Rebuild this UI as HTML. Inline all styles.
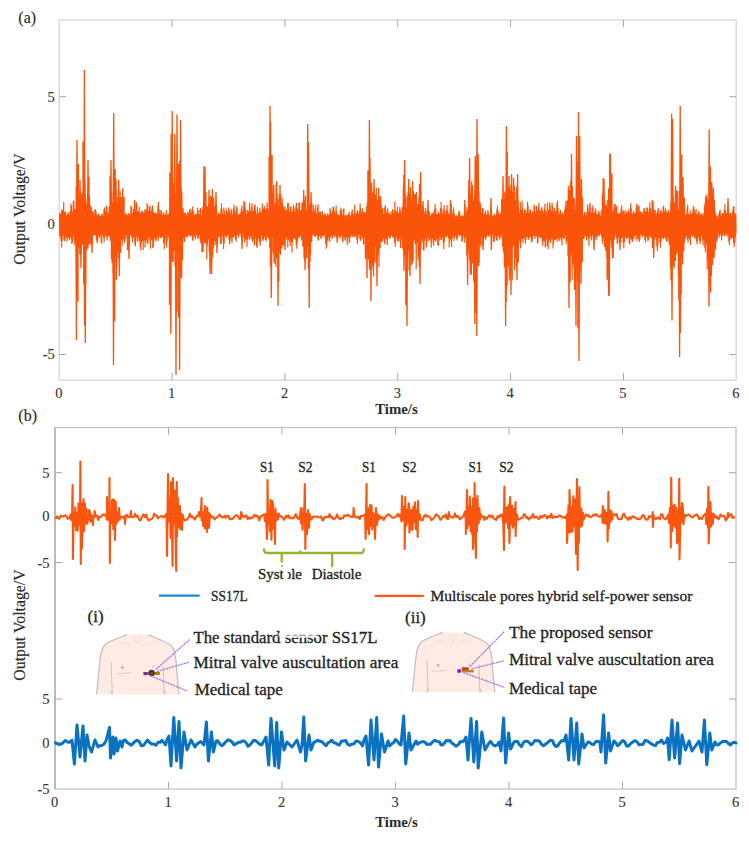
<!DOCTYPE html>
<html><head><meta charset="utf-8"><style>
html,body{margin:0;padding:0;background:#fff;}
body{width:749px;height:843px;overflow:hidden;position:relative;}
svg{position:absolute;left:0;top:0;}
text{font-family:"Liberation Serif",serif;fill:#222;stroke:#222;stroke-width:0.3px;}
.tk text,text.tk{fill:#363636;stroke:#363636;stroke-width:0.12px;}
text.tt{fill:#2a2a2a;stroke:none;}
text.yl{fill:#2a2a2a;stroke:#2a2a2a;stroke-width:0.15px;}
</style></head><body>
<svg width="749" height="843" viewBox="0 0 749 843">
<rect width="749" height="843" fill="#fff"/>
<!-- panel a -->
<text x="18.3" y="22.8" font-size="16" class="yl">(a)</text>
<rect x="59.2" y="20" width="677" height="360.2" fill="none" stroke="#d6d6d6" stroke-width="1.3"/>
<g stroke="#a8a8a8" stroke-width="1" fill="none"><path d="M172.1 20V27M172.1 380V373"/><path d="M284.9 20V27M284.9 380V373"/><path d="M397.7 20V27M397.7 380V373"/><path d="M510.6 20V27M510.6 380V373"/><path d="M623.5 20V27M623.5 380V373"/><path d="M59.2 96.7H66M736.2 96.7H729.5"/><path d="M59.2 225.5H66M736.2 225.5H729.5"/><path d="M59.2 354.5H66M736.2 354.5H729.5"/></g>
<path d="M59.5 213L59.8 236.7L60.1 214.1L60.4 232.8L60.7 216L61 240.8L61.3 211.2L61.6 247.4L61.9 209.1L62.2 241.3L62.5 213.9L62.8 234.4L63.1 210.5L63.4 235.7L63.7 201.7L64 239.5L64.3 211.7L64.6 241.1L64.9 215.7L65.2 238.5L65.5 211.7L65.8 234.2L66.1 215.2L66.4 237L66.7 215.7L67 241.8L67.3 214.3L67.6 239L67.9 212.6L68.2 235L68.5 212.6L68.8 236.9L69.1 214.9L69.4 240.3L69.7 216.3L70 237.2L70.3 210.5L70.6 234.3L70.9 203.6L71.2 239.5L71.5 205.7L71.8 244.1L72.1 213L72.4 242.8L72.7 211.5L73 237.3L73.3 201.2L73.6 235L73.9 200.5L74.2 240.9L74.5 209.1L74.8 245.2L75.1 216L75.4 243L75.7 209.5L76 238.5L76.3 209.3L76.6 239.5L76.9 203L77.2 236L77.5 208.2L77.8 246.5L78.1 205.3L78.4 247.6L78.7 200.6L79 248.4L79.3 200.7L79.6 238.5L79.9 203.4L80.2 240.6L80.5 191L80.8 248.7L81.1 201.2L81.4 241.2L81.7 194.6L82 234.2L82.3 195.9L82.6 245L82.9 191.3L83.2 244.9L83.5 210.7L83.8 236.8L84.1 207.8L84.4 240L84.7 214.9L85 254.7L85.3 212.5L85.6 250.7L85.9 198.5L86.2 245.6L86.5 213.9L86.8 250.4L87.1 204.3L87.4 246.8L87.7 192.9L88 248.4L88.3 206.3L88.6 243.9L88.9 214.7L89.2 243.4L89.5 208.7L89.8 245.4L90.1 205L90.4 237.6L90.7 207.3L91 243.7L91.3 207.1L91.6 237.6L91.9 215.6L92.2 232.5L92.5 211.3L92.8 234.8L93.1 211.5L93.4 235.2L93.7 218.1L94 235.6L94.3 214.7L94.6 235.2L94.9 209.4L95.2 233.5L95.5 209.3L95.8 235.5L96.1 211.6L96.4 240.1L96.7 215.3L97 243.2L97.3 217.4L97.6 240.9L97.9 214.5L98.2 235.9L98.5 213.8L98.8 234.4L99.1 213.7L99.4 237.9L99.7 216.1L100 235.6L100.3 217.9L100.6 235L100.9 216.1L101.2 242.5L101.5 214L101.8 243.7L102.1 213.9L102.4 235.3L102.7 215.5L103 234.5L103.3 216.6L103.6 237.7L103.9 209.5L104.2 242.1L104.5 207.5L104.8 237.5L105.1 215.9L105.4 234.7L105.7 211.2L106 234.7L106.3 205.5L106.6 237.4L106.9 207L107.2 240.4L107.5 212.7L107.8 236.6L108.1 216.3L108.4 233.2L108.7 212.2L109 235.7L109.3 206.6L109.6 236.5L109.9 209L110.2 239.6L110.5 213L110.8 241.3L111.1 207.7L111.4 259L111.7 193L112 262.8L112.3 202.8L112.6 244.2L112.9 209.3L113.2 273.3L113.5 187.5L113.8 243.7L114.1 208.8L114.4 242.8L114.7 204.4L115 247.5L115.3 212.2L115.6 256.9L115.9 204.8L116.2 241.8L116.5 210.1L116.8 267.3L117.1 204.3L117.4 241.3L117.7 197.2L118 247.3L118.3 193L118.6 258.2L118.9 216.4L119.2 246.9L119.5 213.3L119.8 246.9L120.1 190.8L120.4 238.6L120.7 202.6L121 240L121.3 197.3L121.6 239L121.9 206.9L122.2 246L122.5 210.8L122.8 240.9L123.1 213.8L123.4 235.1L123.7 214.7L124 238.9L124.3 216.2L124.6 243L124.9 217.6L125.2 240.5L125.5 213.4L125.8 235.8L126.1 213.5L126.4 234.5L126.7 216.3L127 238.4L127.3 215.3L127.6 237.5L127.9 214.5L128.2 232.7L128.5 212.9L128.8 235.7L129.1 215.2L129.4 236.5L129.7 216.1L130 236.1L130.3 213.9L130.6 234.9L130.9 205.7L131.2 234.5L131.5 206.4L131.8 237.4L132.1 213.2L132.4 242.5L132.7 214.8L133 238.4L133.3 208.9L133.6 235.6L133.9 209L134.2 236.7L134.5 213.6L134.8 244.5L135.1 214.3L135.4 246.3L135.7 209.6L136 237.1L136.3 201.9L136.6 235.9L136.9 204.8L137.2 241.5L137.5 211.8L137.8 241.3L138.1 214.9L138.4 237.7L138.7 211.2L139 235.8L139.3 206.9L139.6 241.2L139.9 212.5L140.2 247.7L140.5 215.9L140.8 250.6L141.1 212.9L141.4 243.4L141.7 210.4L142 236.3L142.3 211.2L142.6 241.3L142.9 211.4L143.2 250L143.5 215.1L143.8 240.2L144.1 213.2L144.4 237.7L144.7 209.2L145 247.4L145.3 211.2L145.6 242.7L145.9 216.1L146.2 235.2L146.5 209.2L146.8 240.4L147.1 202.9L147.4 244L147.7 204.9L148 243.2L148.3 210.9L148.6 237.2L148.9 213.4L149.2 234.9L149.5 207L149.8 240.6L150.1 205.6L150.4 248.7L150.7 211.6L151 240.7L151.3 214.1L151.6 235.3L151.9 208.4L152.2 240L152.5 205.6L152.8 248L153.1 210L153.4 247.5L153.7 212.9L154 240.2L154.3 215.4L154.6 234.9L154.9 212.9L155.2 238.1L155.5 212.3L155.8 241.6L156.1 214L156.4 239.8L156.7 216L157 235.6L157.3 212.9L157.6 236.5L157.9 205L158.2 241.2L158.5 201.9L158.8 238.4L159.1 209.1L159.4 234.5L159.7 214.3L160 236.2L160.3 213.4L160.6 238L160.9 209.7L161.2 238L161.5 210.8L161.8 236.6L162.1 214.9L162.4 234.7L162.7 216.2L163 237.5L163.3 212.7L163.6 243.1L163.9 212.2L164.2 249.2L164.5 214.7L164.8 244.5L165.1 216.7L165.4 237.4L165.7 214.2L166 237.5L166.3 210.1L166.6 247.6L166.9 215.1L167.2 241.4L167.5 215.8L167.8 234.5L168.1 214L168.4 235.9L168.7 213.7L169 239L169.3 215.2L169.6 236.1L169.9 205.4L170.2 239.3L170.5 201.4L170.8 250.3L171.1 199.4L171.4 257.7L171.7 190.3L172 261.8L172.3 192.1L172.6 249.1L172.9 196.2L173.2 262.2L173.5 195.2L173.8 251.1L174.1 189.6L174.4 250.1L174.7 200L175 266.3L175.3 194L175.6 239.8L175.9 210.3L176.2 257.7L176.5 177.4L176.8 271.1L177.1 175.1L177.4 251.6L177.7 199.1L178 254.3L178.3 177.9L178.6 254.6L178.9 195.1L179.2 260.7L179.5 206.1L179.8 248.3L180.1 193.3L180.4 238.9L180.7 202.8L181 249.9L181.3 188.6L181.6 246.5L181.9 192.7L182.2 248.7L182.5 211.1L182.8 243.5L183.1 208.2L183.4 235.5L183.7 212.7L184 238.4L184.3 215.5L184.6 241.9L184.9 213.1L185.2 237.3L185.5 212.6L185.8 234.3L186.1 215.4L186.4 236.4L186.7 215.2L187 237.3L187.3 213.2L187.6 237.4L187.9 211.2L188.2 235.1L188.5 213.2L188.8 234L189.1 217L189.4 235.3L189.7 208.9L190 236.7L190.3 209.5L190.6 235.9L190.9 217.1L191.2 235.6L191.5 212.4L191.8 233.8L192.1 209L192.4 240L192.7 206.6L193 240.9L193.3 211L193.6 235L193.9 215.1L194.2 235.4L194.5 215.6L194.8 237.4L195.1 213.5L195.4 239.4L195.7 214.6L196 235.1L196.3 217.2L196.6 233L196.9 213.2L197.2 236.7L197.5 207.7L197.8 239L198.1 209.8L198.4 238.6L198.7 214.2L199 234.8L199.3 216.1L199.6 235.1L199.9 209.9L200.2 240.8L200.5 208L200.8 243.4L201.1 216L201.4 236.8L201.7 215L202 232.7L202.3 209.4L202.6 242.8L202.9 206.4L203.2 239.9L203.5 204.5L203.8 239.3L204.1 204.3L204.4 243.6L204.7 209.4L205 239.7L205.3 203.5L205.6 242.7L205.9 205.4L206.2 243.2L206.5 209.5L206.8 259.6L207.1 206.1L207.4 245.3L207.7 209.3L208 235.8L208.3 206.8L208.6 239.4L208.9 209.4L209.2 251.4L209.5 213.8L209.8 235.2L210.1 197L210.4 243.9L210.7 196.1L211 242.8L211.3 204.9L211.6 240.3L211.9 206.3L212.2 243.7L212.5 200.6L212.8 257.6L213.1 202.2L213.4 248.3L213.7 197.6L214 245.5L214.3 211.3L214.6 241.5L214.9 207.1L215.2 240.2L215.5 212.1L215.8 245L216.1 209L216.4 243.8L216.7 210.3L217 236.1L217.3 214.6L217.6 236.4L217.9 216.9L218.2 237.5L218.5 213L218.8 236.7L219.1 212.8L219.4 233.7L219.7 216.1L220 237.6L220.3 214.2L220.6 244L220.9 208.8L221.2 244.2L221.5 203.3L221.8 236L222.1 209.2L222.4 236L222.7 215.8L223 241L223.3 214L223.6 248.9L223.9 207.4L224.2 243.4L224.5 210.9L224.8 236.2L225.1 215.5L225.4 233.2L225.7 214.3L226 235.6L226.3 208.6L226.6 237.5L226.9 212.4L227.2 236.5L227.5 215.7L227.8 234.9L228.1 211.2L228.4 233L228.7 207.4L229 240.1L229.3 209.9L229.6 244.3L229.9 213.5L230.2 241.1L230.5 216.7L230.8 233.4L231.1 208.7L231.4 238.1L231.7 210.4L232 243.1L232.3 216.6L232.6 237.6L232.9 214.6L233.2 234.6L233.5 208.2L233.8 237.6L234.1 204.6L234.4 236L234.7 209.9L235 234.1L235.3 216.1L235.6 240L235.9 213.3L236.2 241.6L236.5 206.4L236.8 234.7L237.1 207.6L237.4 234.4L237.7 214.5L238 235.7L238.3 217.1L238.6 237.6L238.9 213.8L239.2 235.3L239.5 214.5L239.8 232.9L240.1 217.2L240.4 233.2L240.7 212.6L241 236.5L241.3 209L241.6 238.3L241.9 205.6L242.2 237.1L242.5 211.3L242.8 234.4L243.1 216.6L243.4 233.3L243.7 214L244 237.8L244.3 208.7L244.6 242.4L244.9 202.1L245.2 239.7L245.5 209.1L245.8 234L246.1 214L246.4 239.6L246.7 214L247 247.1L247.3 209.9L247.6 240.1L247.9 210L248.2 234.3L248.5 214.6L248.8 237.1L249.1 211.4L249.4 239.4L249.7 202.4L250 238.7L250.3 211L250.6 236.1L250.9 212.7L251.2 234.4L251.5 207.3L251.8 239.5L252.1 203.2L252.4 242.1L252.7 210.8L253 236L253.3 216.4L253.6 239.4L253.9 210.5L254.2 245.4L254.5 205.4L254.8 244.3L255.1 204.2L255.4 236.1L255.7 210.3L256 237.8L256.3 213.9L256.6 246.6L256.9 213.7L257.2 247.9L257.5 207.1L257.8 240.4L258.1 212.9L258.4 234.8L258.7 216L259 238.6L259.3 212.4L259.6 242.2L259.9 208.1L260.2 245.9L260.5 210.8L260.8 242.1L261.1 214.2L261.4 236.1L261.7 211.9L262 235.1L262.3 203.6L262.6 239.2L262.9 207.3L263.2 241.1L263.5 215.8L263.8 239.4L264.1 209L264.4 236.8L264.7 206L265 235.9L265.3 209.7L265.6 239.9L265.9 216.3L266.2 241.6L266.5 208.4L266.8 238.2L267.1 202.3L267.4 234.7L267.7 207.9L268 237L268.3 215.5L268.6 238.3L268.9 210.6L269.2 239.6L269.5 203L269.8 248.3L270.1 203.2L270.4 242L270.7 211.6L271 248.9L271.3 194L271.6 237.7L271.9 210.9L272.2 237.7L272.5 193.3L272.8 251.6L273.1 199.4L273.4 254.6L273.7 202.9L274 262.4L274.3 204.5L274.6 246.7L274.9 205.9L275.2 238.2L275.5 203.7L275.8 266.9L276.1 184.2L276.4 258.2L276.7 207.7L277 255.2L277.3 198.8L277.6 248.3L277.9 209.4L278.2 265L278.5 208.5L278.8 252.6L279.1 193.8L279.4 251.6L279.7 198.2L280 246.8L280.3 211.1L280.6 254.8L280.9 194.4L281.2 246.4L281.5 208.1L281.8 248.5L282.1 202.9L282.4 244.2L282.7 212.1L283 245.3L283.3 205.9L283.6 246.3L283.9 211.3L284.2 237.9L284.5 208.4L284.8 237.2L285.1 206.2L285.4 238.4L285.7 210.4L286 238L286.3 216.1L286.6 236.2L286.9 209.5L287.2 240.1L287.5 204.3L287.8 247.4L288.1 203.5L288.4 240.1L288.7 208.8L289 234.7L289.3 214.9L289.6 242.1L289.9 211.7L290.2 245.9L290.5 206.5L290.8 238.7L291.1 206.7L291.4 241.6L291.7 211.9L292 252.6L292.3 213.8L292.6 241.9L292.9 209.4L293.2 235.2L293.5 204.8L293.8 239.2L294.1 207.9L294.4 237.9L294.7 213.4L295 235.7L295.3 211.4L295.6 239.8L295.9 205.9L296.2 245.1L296.5 202.7L296.8 248.8L297.1 208.4L297.4 241.8L297.7 214.3L298 237.6L298.3 209.4L298.6 235L298.9 202.8L299.2 238.5L299.5 202.3L299.8 236.3L300.1 210.1L300.4 234.1L300.7 214.6L301 236.6L301.3 210.3L301.6 240.4L301.9 202.8L302.2 240.4L302.5 203.3L302.8 246.7L303.1 201.9L303.4 241L303.7 208.5L304 258L304.3 211.3L304.6 258.9L304.9 205.7L305.2 262.1L305.5 195.7L305.8 236.1L306.1 210L306.4 258.4L306.7 210.4L307 257.3L307.3 208.4L307.6 239.1L307.9 207.4L308.2 246.8L308.5 205.9L308.8 255.3L309.1 204.4L309.4 243.3L309.7 204.3L310 262.3L310.3 208.2L310.6 254.6L310.9 205.1L311.2 240L311.5 207.2L311.8 241.9L312.1 213.9L312.4 235.3L312.7 212.2L313 234.5L313.3 204.7L313.6 233.8L313.9 211.1L314.2 235.6L314.5 216L314.8 236.6L315.1 208.3L315.4 237L315.7 204.6L316 235.4L316.3 214.3L316.6 233.2L316.9 213.7L317.2 236L317.5 207.4L317.8 239.2L318.1 204.3L318.4 240.7L318.7 212.5L319 236.8L319.3 216L319.6 233.1L319.9 211.6L320.2 235.5L320.5 211.8L320.8 238.5L321.1 216.4L321.4 238.7L321.7 214.7L322 236.3L322.3 211.1L322.6 232.8L322.9 214.4L323.2 235.7L323.5 216.3L323.8 237.2L324.1 215L324.4 235.1L324.7 213.2L325 234.1L325.3 213.9L325.6 243.3L325.9 215.8L326.2 248.7L326.5 217.5L326.8 246.4L327.1 215.4L327.4 240.7L327.7 213.6L328 233.7L328.3 215.3L328.6 237.8L328.9 216.2L329.2 241.8L329.5 213.9L329.8 241.2L330.1 207.8L330.4 237L330.7 210.4L331 234.2L331.3 212.9L331.6 236.5L331.9 216.7L332.2 239.1L332.5 211.5L332.8 237.4L333.1 206.6L333.4 234.1L333.7 207L334 235L334.3 210.1L334.6 237.3L334.9 215.5L335.2 235L335.5 213.2L335.8 233.7L336.1 205.4L336.4 237.9L336.7 211.7L337 242.9L337.3 216.7L337.6 240.9L337.9 214.5L338.2 236L338.5 214.7L338.8 234.1L339.1 216.4L339.4 237L339.7 215.8L340 238.9L340.3 210.2L340.6 236.5L340.9 207.6L341.2 233.6L341.5 210.5L341.8 235.1L342.1 214.9L342.4 240.9L342.7 217L343 242.4L343.3 209.2L343.6 236.8L343.9 208.2L344.2 233.6L344.5 216.4L344.8 239.3L345.1 217.2L345.4 240.7L345.7 214.7L346 235.2L346.3 214.9L346.6 237.2L346.9 215.6L347.2 245.1L347.5 218.2L347.8 241.4L348.1 214.7L348.4 232.3L348.7 213.3L349 237.7L349.3 211.7L349.6 243L349.9 215.4L350.2 237.3L350.5 218.3L350.8 233.4L351.1 215.2L351.4 235L351.7 211.7L352 237.6L352.3 209.2L352.6 237L352.9 213.4L353.2 234.9L353.5 216.5L353.8 232.9L354.1 214.4L354.4 237L354.7 204.7L355 236.7L355.3 213.5L355.6 234.8L355.9 217.1L356.2 235.5L356.5 213.5L356.8 239.8L357.1 210.6L357.4 244.3L357.7 211.2L358 238.4L358.3 213.6L358.6 233.5L358.9 217.1L359.2 234.7L359.5 210.7L359.8 238.5L360.1 203.4L360.4 240.9L360.7 207.8L361 239L361.3 213.5L361.6 236.8L361.9 213.7L362.2 233.7L362.5 208.6L362.8 239.3L363.1 212.3L363.4 244.8L363.7 216.7L364 244.1L364.3 212.4L364.6 237.2L364.9 212L365.2 234.3L365.5 216.4L365.8 238.4L366.1 212.1L366.4 245.1L366.7 206.1L367 243.7L367.3 202.4L367.6 250.4L367.9 208.9L368.2 259.4L368.5 197.2L368.8 259.8L369.1 206.9L369.4 269L369.7 212L370 270L370.3 192.1L370.6 260.7L370.9 212.4L371.2 241.6L371.5 189.1L371.8 270.6L372.1 207.2L372.4 266.4L372.7 215.1L373 241.9L373.3 208.4L373.6 276.6L373.9 188.7L374.2 252.7L374.5 205.7L374.8 262.5L375.1 194.5L375.4 241.9L375.7 199.2L376 247.3L376.3 187.8L376.6 261.3L376.9 211.8L377.2 236.7L377.5 199.7L377.8 253L378.1 209.4L378.4 254.7L378.7 205.2L379 266.9L379.3 199.3L379.6 247.4L379.9 196.4L380.2 248L380.5 208.5L380.8 238.9L381.1 204.5L381.4 242.2L381.7 212.9L382 240.1L382.3 208.8L382.6 241.3L382.9 207.4L383.2 234.3L383.5 214.5L383.8 238.6L384.1 214.9L384.4 243.8L384.7 207.5L385 244.3L385.3 204.9L385.6 238.6L385.9 212.7L386.2 235.2L386.5 215.3L386.8 240.4L387.1 210.5L387.4 245.1L387.7 208.2L388 237.7L388.3 212.5L388.6 235L388.9 216.1L389.2 236.6L389.5 213.9L389.8 238.9L390.1 212.2L390.4 237.6L390.7 215.2L391 235.1L391.3 214.7L391.6 233.7L391.9 211L392.2 236.7L392.5 209L392.8 237.3L393.1 212.4L393.4 234.2L393.7 215.8L394 238.6L394.3 210.4L394.6 242.7L394.9 201.3L395.2 246.8L395.5 211.2L395.8 240.2L396.1 214.2L396.4 236.2L396.7 211L397 237.1L397.3 206.8L397.6 241L397.9 212.2L398.2 241.5L398.5 214L398.8 239.1L399.1 213.1L399.4 234.4L399.7 207.3L400 241.8L400.3 209.5L400.6 247.9L400.9 214.7L401.2 237.8L401.5 213.2L401.8 239.6L402.1 207.1L402.4 248.4L402.7 208.7L403 248.7L403.3 206.6L403.6 244.1L403.9 209L404.2 245.6L404.5 207.9L404.8 249.3L405.1 197.3L405.4 246.5L405.7 194.7L406 251.5L406.3 208.1L406.6 260.9L406.9 207.8L407.2 255.9L407.5 196.1L407.8 250.2L408.1 191.5L408.4 245.9L408.7 187.4L409 270.2L409.3 203.3L409.6 255.5L409.9 193.4L410.2 258.8L410.5 187.3L410.8 242.8L411.1 197.8L411.4 265.4L411.7 201.6L412 252.7L412.3 201.4L412.6 263.3L412.9 202.4L413.2 260.5L413.5 191.2L413.8 238.6L414.1 212.9L414.4 240.1L414.7 194.3L415 243.1L415.3 194.1L415.6 244.3L415.9 203.3L416.2 269.3L416.5 191.7L416.8 242.2L417.1 211.4L417.4 242.1L417.7 204.4L418 260L418.3 203.5L418.6 238.9L418.9 197L419.2 256.5L419.5 208.7L419.8 244.7L420.1 203.8L420.4 244.8L420.7 204.2L421 248.9L421.3 214.3L421.6 238.9L421.9 210.1L422.2 234.8L422.5 205.6L422.8 242.4L423.1 208.5L423.4 250.4L423.7 213.7L424 250.5L424.3 215.2L424.6 241L424.9 211.2L425.2 234.2L425.5 207.8L425.8 239.4L426.1 210.7L426.4 247.4L426.7 214.6L427 242.3L427.3 217.1L427.6 235.2L427.9 215L428.2 237.5L428.5 212.2L428.8 241.3L429.1 211.4L429.4 240.1L429.7 213.1L430 235.5L430.3 216L430.6 238.4L430.9 216.2L431.2 247.7L431.5 214.3L431.8 243L432.1 213.1L432.4 236.3L432.7 213.3L433 239.3L433.3 215.8L433.6 245.9L433.9 212.3L434.2 240.2L434.5 209.5L434.8 234.7L435.1 204L435.4 241.6L435.7 208.2L436 241.5L436.3 214.1L436.6 234.8L436.9 215.8L437.2 238.8L437.5 213.9L437.8 245L438.1 211.4L438.4 246.3L438.7 213L439 240.8L439.3 213.7L439.6 234.8L439.9 215.8L440.2 236.8L440.5 207.9L440.8 240L441.1 201.9L441.4 239.8L441.7 208.9L442 237.6L442.3 215.7L442.6 235.2L442.9 213.5L443.2 243.2L443.5 209.5L443.8 249.5L444.1 205L444.4 241.6L444.7 210.8L445 233.5L445.3 215.5L445.6 235.7L445.9 213.4L446.2 237.6L446.5 209.5L446.8 236.9L447.1 204.9L447.4 235.5L447.7 211.1L448 233.2L448.3 216.8L448.6 238.3L448.9 213.5L449.2 247.4L449.5 213.5L449.8 241.7L450.1 217.1L450.4 233.3L450.7 210.3L451 239.4L451.3 204L451.6 246.9L451.9 214.2L452.2 239.1L452.5 215.5L452.8 232.5L453.1 210.5L453.4 236.5L453.7 207.2L454 240.9L454.3 213.4L454.6 238.1L454.9 217.5L455.2 233.6L455.5 216.2L455.8 235.8L456.1 215.2L456.4 238.6L456.7 215.6L457 240.4L457.3 217L457.6 236.7L457.9 216.2L458.2 233.1L458.5 213.2L458.8 234.5L459.1 210.4L459.4 236.2L459.7 212.1L460 234.9L460.3 215.9L460.6 233L460.9 217.3L461.2 235.7L461.5 216.2L461.8 241.9L462.1 215L462.4 240.9L462.7 215.9L463 235.7L463.3 217.7L463.6 232.6L463.9 216.3L464.2 238.5L464.5 214.3L464.8 242.7L465.1 216L465.4 237.6L465.7 218.2L466 232.4L466.3 211.7L466.6 238.1L466.9 206.8L467.2 249.3L467.5 210.2L467.8 237.5L468.1 215.8L468.4 248.6L468.7 190.9L469 253.6L469.3 199.1L469.6 260.1L469.9 207L470.2 274.5L470.5 194.6L470.8 268L471.1 187.4L471.4 274.7L471.7 181.3L472 254.1L472.3 209.3L472.6 263.4L472.9 202L473.2 238.7L473.5 201.3L473.8 280L474.1 199.1L474.4 268.3L474.7 189.5L475 240L475.3 184.8L475.6 237.3L475.9 199.1L476.2 275.3L476.5 190L476.8 267L477.1 186.2L477.4 265.3L477.7 199.1L478 263.1L478.3 190.5L478.6 266.6L478.9 191.3L479.2 263.1L479.5 211.6L479.8 239L480.1 205.5L480.4 244.5L480.7 204.7L481 247.2L481.3 212.6L481.6 237.3L481.9 214.3L482.2 237.6L482.5 208.1L482.8 245.8L483.1 208.3L483.4 243.9L483.7 216L484 237.1L484.3 214.8L484.6 234.6L484.9 212.2L485.2 239L485.5 210.5L485.8 240.2L486.1 214.2L486.4 237L486.7 217.6L487 235L487.3 214L487.6 234.2L487.9 209.8L488.2 235.7L488.5 212.5L488.8 236.9L489.1 215.5L489.4 235.3L489.7 216.5L490 232.6L490.3 214.5L490.6 234.7L490.9 212.1L491.2 236.5L491.5 213.4L491.8 234.4L492.1 215.8L492.4 232.5L492.7 216.9L493 235.6L493.3 216.4L493.6 241.6L493.9 215L494.2 241.9L494.5 214.1L494.8 238.6L495.1 215.5L495.4 233.9L495.7 217.3L496 236.1L496.3 213.5L496.6 240.1L496.9 209L497.2 241L497.5 205.5L497.8 236.6L498.1 211L498.4 232.5L498.7 214.4L499 236.4L499.3 215.1L499.6 239.5L499.9 212.6L500.2 237.9L500.5 213.5L500.8 235.8L501.1 216.8L501.4 234.2L501.7 211.3L502 238.5L502.3 206.6L502.6 246.5L502.9 200.3L503.2 251.1L503.5 209.2L503.8 253.4L504.1 200.5L504.4 267.3L504.7 191.4L505 253.4L505.3 193L505.6 263.3L505.9 215.2L506.2 243.4L506.5 186.2L506.8 257.6L507.1 208.3L507.4 265.3L507.7 201.6L508 248.7L508.3 200.5L508.6 267.3L508.9 192.6L509.2 280.8L509.5 191.4L509.8 243.6L510.1 184.7L510.4 247.2L510.7 196.5L511 245.7L511.3 208.6L511.6 247.4L511.9 204.9L512.2 280.5L512.5 205.3L512.8 245.5L513.1 198.1L513.4 242.5L513.7 200.9L514 247.6L514.3 185.4L514.6 270.3L514.9 191.5L515.2 243.8L515.5 200L515.8 258.1L516.1 204.5L516.4 265.9L516.7 208.5L517 243.1L517.3 213.6L517.6 250.4L517.9 198.8L518.2 239.8L518.5 207.4L518.8 240.3L519.1 213.5L519.4 239.6L519.7 212.8L520 243.7L520.3 201.9L520.6 248.5L520.9 210L521.2 241.9L521.5 211.3L521.8 235.7L522.1 200.4L522.4 238.8L522.7 207.6L523 243.3L523.3 215.3L523.6 239.1L523.9 213.5L524.2 235L524.5 209.9L524.8 238.6L525.1 208.9L525.4 243.7L525.7 213.1L526 240.3L526.3 216.1L526.6 236.4L526.9 210.6L527.2 235.5L527.5 201.8L527.8 237.5L528.1 205.5L528.4 239.8L528.7 213.9L529 239.6L529.3 212.8L529.6 237.1L529.9 209.5L530.2 234.4L530.5 209.5L530.8 237.1L531.1 214.3L531.4 241.6L531.7 213.8L532 242.4L532.3 211.3L532.6 238.7L532.9 215.6L533.2 234.7L533.5 211.5L533.8 235.4L534.1 204.5L534.4 235.9L534.7 206.2L535 238.9L535.3 215.1L535.6 236.1L535.9 212.6L536.2 234.5L536.5 205.8L536.8 236.7L537.1 210.5L537.4 243.6L537.7 215.5L538 242.4L538.3 206.7L538.6 235.3L538.9 202.8L539.2 236.3L539.5 209.8L539.8 238.1L540.1 216.6L540.4 237.9L540.7 211L541 236.1L541.3 207.6L541.6 237.4L541.9 207.3L542.2 242.2L542.5 210.6L542.8 246.1L543.1 216L543.4 240.8L543.7 212.8L544 234.9L544.3 208.7L544.6 241.6L544.9 204L545.2 247.4L545.5 210.4L545.8 246.6L546.1 214.3L546.4 239.2L546.7 212.3L547 236L547.3 202.6L547.6 245.9L547.9 209.1L548.2 249.3L548.5 214.4L548.8 241.6L549.1 209.9L549.4 235.9L549.7 202.2L550 240.1L550.3 205.4L550.6 242.9L550.9 211L551.2 240.1L551.5 213L551.8 236.4L552.1 202.5L552.4 238.7L552.7 206.1L553 248.5L553.3 215.6L553.6 243.6L553.9 211.4L554.2 234.3L554.5 208L554.8 240.2L555.1 211.3L555.4 239.8L555.7 216.1L556 235.2L556.3 210.9L556.6 239.3L556.9 203.3L557.2 242.1L557.5 200.6L557.8 235.5L558.1 207.9L558.4 237.9L558.7 215.5L559 241L559.3 214.3L559.6 240.2L559.9 211.4L560.2 238.1L560.5 210.1L560.8 234L561.1 214.4L561.4 240.4L561.7 216.8L562 245.6L562.3 212.5L562.6 237.5L562.9 212.5L563.2 234.1L563.5 214.7L563.8 238.2L564.1 215.7L564.4 239L564.7 209.4L565 235.5L565.3 206.8L565.6 233.6L565.9 213.8L566.2 243.9L566.5 208.2L566.8 240.9L567.1 200.6L567.4 239.8L567.7 210L568 256.1L568.3 185.7L568.6 260.8L568.9 189.7L569.2 245.7L569.5 209.1L569.8 253.5L570.1 185.2L570.4 254.3L570.7 181.2L571 235.1L571.3 192.3L571.6 255.6L571.9 205.8L572.2 279.8L572.5 213.3L572.8 242.5L573.1 199.9L573.4 263.6L573.7 197.6L574 268.8L574.3 197.9L574.6 267L574.9 209.6L575.2 269.2L575.5 210.3L575.8 263.4L576.1 204.3L576.4 243.5L576.7 181.2L577 261.9L577.3 209.9L577.6 282.1L577.9 214.3L578.2 247.9L578.5 209L578.8 276.7L579.1 181L579.4 241.5L579.7 189.4L580 273.3L580.3 210.7L580.6 241.3L580.9 214.8L581.2 263.8L581.5 213.4L581.8 249.4L582.1 206.2L582.4 243.9L582.7 215.4L583 235.6L583.3 216.2L583.6 238.9L583.9 214.6L584.2 238.5L584.5 212L584.8 235.8L585.1 212.7L585.4 234.1L585.7 215.2L586 236.3L586.3 216.8L586.6 240.6L586.9 211.8L587.2 236.3L587.5 204.3L587.8 234.1L588.1 207.4L588.4 238.8L588.7 212.3L589 245.8L589.3 215.7L589.6 238.1L589.9 212.9L590.2 233L590.5 211.4L590.8 236.1L591.1 215.4L591.4 240.4L591.7 213L592 234.9L592.3 207.9L592.6 233.6L592.9 205.3L593.2 238.3L593.5 212.8L593.8 241L594.1 216.3L594.4 237.3L594.7 212.4L595 233.6L595.3 208.6L595.6 236.5L595.9 209.6L596.2 239.9L596.5 213.8L596.8 237.5L597.1 217.3L597.4 235.8L597.7 214.5L598 233.5L598.3 212L598.6 235.2L598.9 210.4L599.2 236.3L599.5 214L599.8 235.3L600.1 216.9L600.4 233.9L600.7 215.4L601 232.5L601.3 210L601.6 236.7L601.9 215.5L602.2 241.2L602.5 214.5L602.8 244.2L603.1 209.9L603.4 238.7L603.7 206.4L604 235.8L604.3 206L604.6 247.1L604.9 204.7L605.2 246.7L605.5 204.7L605.8 251L606.1 208.1L606.4 243L606.7 205.6L607 258.1L607.3 200L607.6 259.6L607.9 212.8L608.2 258.2L608.5 208.6L608.8 260.9L609.1 206.4L609.4 253.2L609.7 203L610 240.5L610.3 205.6L610.6 237.4L610.9 204.7L611.2 247.8L611.5 203.6L611.8 237.2L612.1 212.2L612.4 235.4L612.7 211.9L613 243.1L613.3 210.9L613.6 236.7L613.9 207.7L614.2 239.8L614.5 203.9L614.8 237.4L615.1 211.3L615.4 234L615.7 215L616 234.7L616.3 207L616.6 238.6L616.9 205.5L617.2 243.7L617.5 213.5L617.8 243.5L618.1 215.2L618.4 237.5L618.7 213.6L619 233L619.3 212.9L619.6 236.9L619.9 216.2L620.2 242.1L620.5 212.4L620.8 242.5L621.1 208.4L621.4 238.4L621.7 205.3L622 235L622.3 211.6L622.6 237.8L622.9 216.4L623.2 242.7L623.5 210.6L623.8 248.5L624.1 210.3L624.4 242.3L624.7 216.2L625 235.2L625.3 214.1L625.6 236.6L625.9 210.5L626.2 238.3L626.5 212.6L626.8 239L627.1 216.4L627.4 238L627.7 212.3L628 234.8L628.3 209.7L628.6 237.2L628.9 216.1L629.2 243L629.5 212.9L629.8 244.5L630.1 207.9L630.4 238.8L630.7 203.3L631 234.1L631.3 208.5L631.6 239.7L631.9 213.9L632.2 241.7L632.5 215.6L632.8 241.7L633.1 212.3L633.4 239.1L633.7 211.1L634 233.9L634.3 213.4L634.6 235.9L634.9 216.9L635.2 239.3L635.5 212.8L635.8 235.4L636.1 207.8L636.4 235.1L636.7 203.8L637 241.4L637.3 210.8L637.6 238.8L637.9 213.9L638.2 234.1L638.5 213L638.8 239.6L639.1 206.1L639.4 242.1L639.7 212L640 239.4L640.3 215.8L640.6 234.2L640.9 211.2L641.2 234.2L641.5 211.9L641.8 235.7L642.1 213.6L642.4 237.2L642.7 215.3L643 235.1L643.3 211.7L643.6 234.1L643.9 208.4L644.2 236.2L644.5 208.3L644.8 240.1L645.1 210.9L645.4 242.8L645.7 216.5L646 236.8L646.3 211.5L646.6 234.4L646.9 207.2L647.2 237.7L647.5 208.1L647.8 241.2L648.1 215.2L648.4 240.6L648.7 212.7L649 237.7L649.3 208.7L649.6 234.5L649.9 202.2L650.2 236.1L650.5 207.9L650.8 237.3L651.1 213.3L651.4 238.1L651.7 211.6L652 237.3L652.3 199.9L652.6 234.6L652.9 207.8L653.2 234.3L653.5 216.1L653.8 236.4L654.1 213.7L654.4 239.4L654.7 210L655 237.8L655.3 209.9L655.6 235.4L655.9 213.5L656.2 240.5L656.5 215.8L656.8 246.5L657.1 212.9L657.4 251.3L657.7 209.5L658 244L658.3 207.9L658.6 235.1L658.9 210.9L659.2 237.8L659.5 214.1L659.8 242.5L660.1 213.5L660.4 247.7L660.7 210.1L661 241.7L661.3 211L661.6 238.2L661.9 214.7L662.2 235.1L662.5 213L662.8 237.8L663.1 207.2L663.4 239.2L663.7 205.5L664 238.5L664.3 211.3L664.6 237.2L664.9 214.1L665.2 234.6L665.5 208.6L665.8 239.2L666.1 210.6L666.4 241.1L666.7 215.6L667 241.9L667.3 212.8L667.6 236.8L667.9 211.9L668.2 235.2L668.5 209.8L668.8 241L669.1 212.5L669.4 245.2L669.7 214.3L670 239.3L670.3 212.2L670.6 240.3L670.9 202.6L671.2 237L671.5 209.1L671.8 258.5L672.1 205.9L672.4 259.3L672.7 202L673 240.9L673.3 197L673.6 266.2L673.9 202.4L674.2 268.3L674.5 208L674.8 249.9L675.1 207.8L675.4 260.9L675.7 194.1L676 250.1L676.3 190.5L676.6 254.2L676.9 192.4L677.2 250.2L677.5 190.7L677.8 251.4L678.1 210.3L678.4 274.8L678.7 209L679 248.3L679.3 190.9L679.6 244.5L679.9 198.9L680.2 239L680.5 197.6L680.8 252.7L681.1 198.2L681.4 258.4L681.7 213.5L682 241.4L682.3 211L682.6 264.4L682.9 197.1L683.2 252.4L683.5 198L683.8 250.8L684.1 214.3L684.4 243L684.7 210.1L685 238.8L685.3 214.2L685.6 238.4L685.9 215.7L686.2 236L686.5 214.1L686.8 234.9L687.1 207.6L687.4 239.8L687.7 204.8L688 242.5L688.3 213.6L688.6 238.6L688.9 215.5L689.2 234.8L689.5 214.4L689.8 239.7L690.1 210.1L690.4 244.9L690.7 212.8L691 235.1L691.3 214.3L691.6 234.9L691.9 216.7L692.2 237.1L692.5 212.4L692.8 236.2L693.1 207.7L693.4 234.5L693.7 205.9L694 235.2L694.3 209.4L694.6 238.7L694.9 214.8L695.2 237.1L695.5 212.4L695.8 235.3L696.1 208.7L696.4 241.6L696.7 214L697 244.3L697.3 215.8L697.6 241.1L697.9 213.2L698.2 235.7L698.5 211.3L698.8 237.1L699.1 211.8L699.4 239.8L699.7 214.6L700 244L700.3 216.2L700.6 241.8L700.9 214.5L701.2 236.2L701.5 214.3L701.8 235.2L702.1 213.3L702.4 239.2L702.7 215.5L703 245.5L703.3 217.1L703.6 241.1L703.9 212.9L704.2 237.9L704.5 205.4L704.8 247.8L705.1 202.6L705.4 252.2L705.7 196.3L706 244.3L706.3 210.5L706.6 240.5L706.9 194.1L707.2 269.3L707.5 199.2L707.8 260.6L708.1 199.2L708.4 242.5L708.7 212.6L709 269.9L709.3 207L709.6 251.5L709.9 199.5L710.2 252L710.5 207.5L710.8 246.6L711.1 210.1L711.4 240.2L711.7 204.7L712 259.8L712.3 201.6L712.6 265.2L712.9 207.5L713.2 253.5L713.5 215.9L713.8 257.4L714.1 209.3L714.4 240.7L714.7 208.6L715 234.1L715.3 212.5L715.6 234.3L715.9 218.2L716.2 238.4L716.5 215.8L716.8 242L717.1 215.6L717.4 239.6L717.7 217.4L718 234.1L718.3 217.8L718.6 233.2L718.9 213.6L719.2 237.8L719.5 210.9L719.8 236L720.1 209.8L720.4 233L720.7 214.3L721 234.6L721.3 217.8L721.6 240.4L721.9 215.7L722.2 236.3L722.5 213L722.8 233.3L723.1 216.6L723.4 233.6L723.7 213.6L724 235.3L724.3 210.1L724.6 236.1L724.9 203.9L725.2 235.2L725.5 210.2L725.8 233L726.1 213.1L726.4 233.3L726.7 216.4L727 236.7L727.3 212.8L727.6 234.5L727.9 211.1L728.2 235.3L728.5 216.1L728.8 241.5L729.1 216.7L729.4 245.3L729.7 213.8L730 240.1L730.3 212.8L730.6 234.3L730.9 212.7L731.2 237.8L731.5 215.2L731.8 238.8L732.1 216.6L732.4 234.8L732.7 210.7L733 238L733.3 206.7L733.6 243.6L733.9 206L734.2 247.3L734.5 212.5L734.8 242.7L735.1 216.9L735.4 237.4L735.7 214.1L736 233.5" fill="none" stroke="#fa540a" stroke-width="1.15" stroke-linejoin="miter"/>
<path d="M76.5 217.2L77 140L77.5 217.2M78.4 217.2L78.4 163.9M77.1 217.2L77.6 168L78.1 217.2M76.2 217.2L76.2 186.6M79.5 217.2L80 180L80.5 217.2M78.4 217.2L78.4 193.3M83.9 217.2L84.4 70L84.9 217.2M83 217.2L83 141.6M87.5 217.2L88 160L88.5 217.2M89 217.2L89 176.7M84.5 217.2L85 180L85.5 217.2M84.1 217.2L84.1 193.6M88.9 217.2L89.4 196L89.9 217.2M110.5 217.2L111 160L111.5 217.2M110 217.2L110 176.6M113.2 217.2L113.7 113L114.2 217.2M115.2 217.2L115.2 169.2M115.5 217.2L116 179L116.5 217.2M114.6 217.2L114.6 190.8M118.2 217.2L118.7 180L119.2 217.2M120.3 217.2L120.3 197.4M122.2 217.2L122.7 188L123.2 217.2M124.1 217.2L124.1 197.1M134.2 217.2L134.7 200L135.2 217.2M170.7 217.2L171.2 134L171.7 217.2M169.8 217.2L169.8 172.6M171.7 217.2L172.2 111L172.7 217.2M171.4 217.2L171.4 160.7M174.3 217.2L174.8 134L175.3 217.2M173.3 217.2L173.3 183.3M176.5 217.2L177 114.5L177.5 217.2M177.8 217.2L177.8 172.8M180.1 217.2L180.6 120L181.1 217.2M179.7 217.2L179.7 160.8M178 217.2L178.5 164L179 217.2M179.5 217.2L179.5 187.5M203.5 217.2L204 166L204.5 217.2M205 217.2L205 185.5M204.5 217.2L205 167L205.5 217.2M206 217.2L206 192M208.5 217.2L209 190L209.5 217.2M210.4 217.2L210.4 205M211.9 217.2L212.4 189L212.9 217.2M211.2 217.2L211.2 196.3M215.5 217.2L216 192L216.5 217.2M214.9 217.2L214.9 205.4M243.5 217.2L244 201L244.5 217.2M269.5 217.2L270 106L270.5 217.2M269.1 217.2L269.1 156.4M270.1 217.2L270.6 122L271.1 217.2M272.1 217.2L272.1 155M273.2 217.2L273.7 185L274.2 217.2M272.4 217.2L272.4 199.1M276.2 217.2L276.7 181L277.2 217.2M277.9 217.2L277.9 198.6M279.5 217.2L280 185L280.5 217.2M278.9 217.2L278.9 205.8M281.5 217.2L282 198L282.5 217.2M287.5 217.2L288 202.6L288.5 217.2M303.2 217.2L303.7 190L304.2 217.2M305.1 217.2L305.1 199.6M307.2 217.2L307.7 124L308.2 217.2M308.5 217.2L308.5 151.5M308 217.2L308.5 142L309 217.2M307.6 217.2L307.6 162M310.5 217.2L311 192L311.5 217.2M311.8 217.2L311.8 202.9M368.9 217.2L369.4 120L369.9 217.2M367.9 217.2L367.9 170.4M369.5 217.2L370 158L370.5 217.2M371.6 217.2L371.6 182.8M373.5 217.2L374 179L374.5 217.2M372.9 217.2L372.9 192.2M378.1 217.2L378.6 188L379.1 217.2M377.3 217.2L377.3 206.6M380.1 217.2L380.6 196L381.1 217.2M403 217.2L403.5 185L404 217.2M405.1 217.2L405.1 199.2M404.2 217.2L404.7 160L405.2 217.2M403.8 217.2L403.8 175.1M408.2 217.2L408.7 179L409.2 217.2M407.2 217.2L407.2 198.6M412 217.2L412.5 181L413 217.2M411.6 217.2L411.6 204.9M415 217.2L415.5 203L416 217.2M420.2 217.2L420.7 172L421.2 217.2M419.5 217.2L419.5 183.9M422.5 217.2L423 201L423.5 217.2M427.5 217.2L428 200L428.5 217.2M450 217.2L450.5 200L451 217.2M464.3 217.2L464.8 200L465.3 217.2M469.1 217.2L469.6 158L470.1 217.2M468.8 217.2L468.8 180.1M471.9 217.2L472.4 185L472.9 217.2M471.3 217.2L471.3 198.6M474.7 217.2L475.2 156L475.7 217.2M476.4 217.2L476.4 188.4M476.5 217.2L477 119L477.5 217.2M475.8 217.2L475.8 160M477.7 217.2L478.2 154L478.7 217.2M476.8 217.2L476.8 173.2M479.5 217.2L480 202L480.5 217.2M490.5 217.2L491 198L491.5 217.2M502.5 217.2L503 176L503.5 217.2M501.6 217.2L501.6 199M505.9 217.2L506.4 126L506.9 217.2M507.3 217.2L507.3 152M508.5 217.2L509 176L509.5 217.2M507.8 217.2L507.8 187.5M511.1 217.2L511.6 174L512.1 217.2M510 217.2L510 189.2M513.1 217.2L513.6 178L514.1 217.2M512.2 217.2L512.2 192.2M517.1 217.2L517.6 174L518.1 217.2M516.7 217.2L516.7 187.1M565.5 217.2L566 201L566.5 217.2M571 217.2L571.5 154L572 217.2M570.4 217.2L570.4 193.1M571.8 217.2L572.3 186L572.8 217.2M570.8 217.2L570.8 195.2M576 217.2L576.5 136L577 217.2M577.3 217.2L577.3 170.7M578 217.2L578.5 112L579 217.2M576.9 217.2L576.9 160.9M579.2 217.2L579.7 136L580.2 217.2M578.1 217.2L578.1 178M581 217.2L581.5 179L582 217.2M582.5 217.2L582.5 197.4M589.5 217.2L590 203L590.5 217.2M603.5 217.2L604 179L604.5 217.2M604.8 217.2L604.8 200.9M602.7 217.2L603.2 178L603.7 217.2M602.4 217.2L602.4 194.2M609.3 217.2L609.8 154L610.3 217.2M608.6 217.2L608.6 188.6M609.9 217.2L610.4 153.5L610.9 217.2M611.9 217.2L611.9 173.6M614.5 217.2L615 204L615.5 217.2M637.5 217.2L638 205L638.5 217.2M652.5 217.2L653 201L653.5 217.2M671.1 217.2L671.6 113.7L672.1 217.2M672.7 217.2L672.7 164.2M672.1 217.2L672.6 118.7L673.1 217.2M671.5 217.2L671.5 158.3M675.1 217.2L675.6 186L676.1 217.2M674.7 217.2L674.7 202.7M679.7 217.2L680.2 105.8L680.7 217.2M681.8 217.2L681.8 154.6M682.5 217.2L683 177L683.5 217.2M684.4 217.2L684.4 197.8M705.3 217.2L705.8 197L706.3 217.2M708.7 217.2L709.2 129.6L709.7 217.2M710.5 217.2L710.5 166.6M711.3 217.2L711.8 182L712.3 217.2M711.1 217.2L711.1 193.9M712.9 217.2L713.4 188L713.9 217.2M714.4 217.2L714.4 200.3M727.5 217.2L728 198L728.5 217.2M75.9 233.2L76.4 340L76.9 233.2M78 233.2L78 301.8M80.5 233.2L81 268L81.5 233.2M79.8 233.2L79.8 254.4M84.8 233.2L85.3 343L85.8 233.2M83.7 233.2L83.7 284.2M84.1 233.2L84.6 326L85.1 233.2M85.9 233.2L85.9 284.6M91.5 233.2L92 253L92.5 233.2M113 233.2L113.5 365L114 233.2M114.7 233.2L114.7 321.2M115.9 233.2L116.4 280L116.9 233.2M117.8 233.2L117.8 252.9M118.8 233.2L119.3 276L119.8 233.2M120.6 233.2L120.6 253.1M128.5 233.2L129 259L129.5 233.2M127.5 233.2L127.5 249.9M170.3 233.2L170.8 334L171.3 233.2M169.5 233.2L169.5 304.9M175.5 233.2L176 375L176.5 233.2M177.1 233.2L177.1 311.7M179.1 233.2L179.6 370L180.1 233.2M178.6 233.2L178.6 317.3M178.4 233.2L178.9 312L179.4 233.2M180.2 233.2L180.2 278.7M181.1 233.2L181.6 278L182.1 233.2M182.5 233.2L182.5 260.2M202.5 233.2L203 252L203.5 233.2M201.5 233.2L202 252L202.5 233.2M209.5 233.2L210 274L210.5 233.2M210.7 233.2L210.7 260.8M211.1 233.2L211.6 274L212.1 233.2M210.6 233.2L210.6 262.8M216.5 233.2L217 253L217.5 233.2M241.5 233.2L242 249L242.5 233.2M270.8 233.2L271.3 298L271.8 233.2M270.4 233.2L270.4 266.4M277.5 233.2L278 306L278.5 233.2M278.8 233.2L278.8 281.1M274.5 233.2L275 264L275.5 233.2M274.2 233.2L274.2 245.5M284.5 233.2L285 250L285.5 233.2M308.7 233.2L309.2 308L309.7 233.2M308.4 233.2L308.4 269.1M304.5 233.2L305 270L305.5 233.2M303.9 233.2L303.9 247.3M366.5 233.2L367 278L367.5 233.2M365.4 233.2L365.4 259.1M370.5 233.2L371 301L371.5 233.2M369.6 233.2L369.6 263.3M376.5 233.2L377 286L377.5 233.2M376.3 233.2L376.3 263.1M403.5 233.2L404 271L404.5 233.2M405.1 233.2L405.1 255.9M406.5 233.2L407 326L407.5 233.2M405.8 233.2L405.8 305M409.5 233.2L410 276L410.5 233.2M409.2 233.2L409.2 250.9M419.5 233.2L420 284L420.5 233.2M419.3 233.2L419.3 266.2M467.1 233.2L467.6 285L468.1 233.2M466.8 233.2L466.8 255.5M474.3 233.2L474.8 324L475.3 233.2M473.9 233.2L473.9 282M476.3 233.2L476.8 336L477.3 233.2M475.8 233.2L475.8 313M482.5 233.2L483 250L483.5 233.2M490.9 233.2L491.4 250L491.9 233.2M505.1 233.2L505.6 326L506.1 233.2M506.6 233.2L506.6 285M505.7 233.2L506.2 302L506.7 233.2M507.1 233.2L507.1 286M510.5 233.2L511 295L511.5 233.2M510.2 233.2L510.2 278.4M516.5 233.2L517 280L517.5 233.2M518.3 233.2L518.3 262.4M568.5 233.2L569 308L569.5 233.2M570.2 233.2L570.2 282.2M575.5 233.2L576 326L576.5 233.2M574.6 233.2L574.6 289.9M578.5 233.2L579 361L579.5 233.2M577.9 233.2L577.9 328.2M580.5 233.2L581 284L581.5 233.2M582.3 233.2L582.3 262.2M593.5 233.2L594 250L594.5 233.2M608.1 233.2L608.6 296L609.1 233.2M607.1 233.2L607.1 279.7M608.7 233.2L609.2 295.6L609.7 233.2M608.1 233.2L608.1 273.8M612.1 233.2L612.6 258L613.1 233.2M611.3 233.2L611.3 240M612.7 233.2L613.2 258L613.7 233.2M611.7 233.2L611.7 244.1M619.5 233.2L620 250L620.5 233.2M653.2 233.2L653.7 258L654.2 233.2M652.5 233.2L652.5 248.3M670.1 233.2L670.6 268.7L671.1 233.2M671.6 233.2L671.6 252.1M671.5 233.2L672 320.5L672.5 233.2M671 233.2L671 280.6M679.1 233.2L679.6 357L680.1 233.2M681.2 233.2L681.2 294.2M679.9 233.2L680.4 333L680.9 233.2M678.8 233.2L678.8 299.7M708.5 233.2L709 306.5L709.5 233.2M710.3 233.2L710.3 277.7M710.1 233.2L710.6 292.6L711.1 233.2M711.4 233.2L711.4 275.8M713.5 233.2L714 258L714.5 233.2M715.6 233.2L715.6 249.8" fill="none" stroke="#fa540a" stroke-width="1.3" stroke-linejoin="miter"/>
<g font-size="14.5" class="tk">
<text x="54.8" y="101.5" text-anchor="end">5</text>
<text x="54.8" y="229.2" text-anchor="end">0</text>
<text x="54.8" y="358.6" text-anchor="end">-5</text>
<text x="58.8" y="397.5" text-anchor="middle">0</text><text x="171.6" y="397.5" text-anchor="middle">1</text><text x="284.5" y="397.5" text-anchor="middle">2</text><text x="397.3" y="397.5" text-anchor="middle">3</text><text x="510.1" y="397.5" text-anchor="middle">4</text><text x="622.9" y="397.5" text-anchor="middle">5</text><text x="735.8" y="397.5" text-anchor="middle">6</text>
</g>
<text x="396.5" y="414" font-size="14.8" font-weight="bold" class="tt" text-anchor="middle">Time/s</text>
<text transform="translate(25,209) rotate(-90)" font-size="15.8" class="yl" text-anchor="middle">Output Voltage/V</text>
<!-- panel b -->
<text x="18.3" y="420.8" font-size="16" class="yl">(b)</text>
<rect x="55" y="427.5" width="681" height="361.5" fill="none" stroke="#c4c4c4" stroke-width="1.3"/>
<path d="M55 427.5V789" stroke="#b4b4b4" stroke-width="1.6"/>
<g stroke="#a8a8a8" stroke-width="1" fill="none"><path d="M168.5 427.5V434.5M168.5 789V782"/><path d="M282 427.5V434.5M282 789V782"/><path d="M395.5 427.5V434.5M395.5 789V782"/><path d="M509 427.5V434.5M509 789V782"/><path d="M622.5 427.5V434.5M622.5 789V782"/><path d="M55 472.7H62M736 472.7H729"/><path d="M55 516.5H62M736 516.5H729"/><path d="M55 562.5H62M736 562.5H729"/><path d="M55 699H62M736 699H729"/><path d="M55 743H62M736 743H729"/></g>
<path d="M55.5 519L57 516.4L58 518.2L59.4 518.7L60.7 515.6L62.2 516.3L63.8 516.6L65 515.3L66.5 515.9L67.7 518.8L69 518.5L70.5 514.5L71.3 520.1L72.1 514.1L72.6 485L72.9 522.9L72.9 559L73.7 512.2L74.5 525.5L75.3 507.3L76.1 530.2L76.9 512.8L77.7 530.6L78.5 503.2L79.3 524.8L80.1 505.2L80.4 461.6L80.8 564L80.9 532.3L81.7 503.4L81.8 549L82.5 532.9L83.3 508.6L83.6 499L84.1 531L84.9 503.6L85.7 523.2L86.5 508.8L87.3 523.8L88.1 514.2L88.9 519.7L89 510L89.7 511.1L90.5 521.6L91.3 514.5L92.1 518.8L93 525L93.1 516.1L94.5 517.4L94.5 511L95.9 516.2L97.1 515.8L98.2 520L99.4 516.7L101 516.9L102 515.4L103.6 514.3L104.9 515.4L106.1 514.5L106.9 519.5L107 497L107.7 511.4L108.5 520.1L109.3 510.8L109.5 478L109.9 563L110.1 523.9L110.9 511.1L111.7 523.1L112 500L112.5 499.7L113.3 529.1L114.1 499.9L114.9 524.3L115 540L115.7 501.6L116.5 523.6L117.3 513.1L118.1 521L118.9 510.9L119 508L119.7 519.5L120.5 516.5L121.7 516.5L123 517.6L124.4 516.4L125 524L125.6 515.9L126.8 514.9L128.4 517.3L130 516.7L131 511L131.4 517.3L132.5 517.1L133.9 516.7L135 513.8L136.4 516.7L137.5 515.7L138.6 518L139.8 520.5L140.9 520L142.2 516.5L143.6 514.4L145.1 517.1L146.3 514.7L147.7 519.5L148.9 520.6L150.3 519.2L151.8 518.9L153.1 517.5L154.1 513.7L155.4 515.2L156.6 515.3L157.8 518.5L158.9 517L160 516.8L161.1 516.1L162.5 516.3L163.6 517.4L165.1 515.9L166.6 513.5L167 556L167.4 522.1L168 474L168.2 508.8L169 521.4L169.8 497.5L170.6 537.7L170.8 482L171.4 510L172.2 541L172.6 566L173 478L173 505.3L173.8 524.2L174.6 490.6L175.4 527.2L176.2 571L176.2 505.1L176.8 482L177 536.7L177.8 497.6L178.6 527.1L179.4 511.2L180 506L180.2 529L181 513.3L181.8 523.3L182 530L182.6 514.5L183.4 518.8L184.7 520.3L186 520.1L187.3 519.1L188.7 517L189.9 513.7L191.2 517.2L192.5 516.3L193.6 518.1L194.9 519.4L196 517.3L197.1 515.8L198.5 514.8L199 512L199.8 516.8L200.8 514.5L201.6 498L201.6 520.1L202.4 513.6L203.2 526L204 511.5L204.8 528.2L205 506L205.6 512.2L206.4 521.7L207 532L207.2 507.6L208 525L208.8 512.8L209 528L209.6 519.5L210.4 514.5L211.2 517.6L212.3 516.8L213.3 517.1L214.7 519.5L215.8 518L216.9 517.6L218 516.7L219.5 514.7L220.6 515.8L221.9 517.4L223.3 517.3L224.7 515.7L225.8 517.7L227 515.9L228.5 516L229.7 519.3L231.2 518.7L232.4 519.2L233.6 517.7L234.9 516.4L236 515.1L237 515.2L238.4 516.9L239.6 519.1L241 518.6L241 512L242.5 515.7L243.7 517.1L245.2 516.3L246.2 515.3L247.7 519.2L249.2 517.4L250.2 518.7L251.4 517.5L253 517.8L254.4 514.8L255.9 516.6L256.9 515.3L258 516.7L259.2 520.4L260.3 516.7L261.7 516L263.1 514.7L264.2 514.5L265 521L265.8 514L266.6 529.1L267 539L267.4 509L267.5 480L268.2 523.5L269 509.9L269.8 531.2L270.6 500.1L270.7 501L271.4 539.7L272.2 500.7L273 504L273 528.5L273.8 511.4L274.6 531.2L275 544L275.4 508.6L276.2 520.6L277 514.5L277.8 519.5L278.6 513.5L279.8 516.4L280.9 515.9L282.4 517.5L283.9 519.8L285.2 517.4L286.3 515.6L287.5 517.4L288.5 515.4L289.8 518.3L291 517.5L292.3 518.4L293.6 518L294.6 516.5L295.9 514.1L297.2 518L298.8 519.2L300.2 514.5L301 508L301 523.5L301.8 513.4L302.6 529.7L303.4 508.4L304.2 522.4L304.8 484L305 505L305.3 549L305.8 524.3L306.6 513.8L307 534L307.4 526.3L308 510L308.2 511.2L309 527.7L309.8 514.3L310.6 519.5L311.4 519.4L312.8 517L314.1 516.6L315.6 516.8L316.8 516.5L318.2 517.2L319.8 517.5L321.2 516.4L322.2 520.1L323.2 520.4L324.5 517L325.6 517.2L327.2 516.8L328.4 517L329.6 514.2L331.1 517.7L332.2 517L333.5 519.2L334.9 518.5L336.2 516.8L337.3 514.5L338.4 518L340 519.1L341.4 517.9L343 518.3L344.1 515.3L345.1 516.1L346.5 515.6L348 514.7L349.6 516.2L350.7 516.9L352 516.5L353.2 516.9L353.6 508L354.2 514.9L355.3 516.9L356.7 517.7L358.1 516.5L359.7 519L361 515.7L362.2 516L363.6 515.4L365.1 514.5L365.6 539L365.9 523.2L366.6 484L366.7 513.1L367.5 529.5L368.3 508.4L369.1 534.2L369.9 512.2L370 505L370.7 526L371.5 505.4L372.3 529.5L373.1 513L373.9 525.6L374.7 514.2L375 539L375.5 521.6L376 508L376.3 512.8L377.1 524.8L377.9 514.5L378.7 519.5L379.5 515.7L381 518.4L382.2 517.1L383.8 520.1L385.2 517.3L386.8 515.3L388.2 514.4L389.7 515L390.8 516.3L392.3 517.7L393.9 517.6L394.9 517.1L396.5 516.4L397.9 513.8L399.1 516.5L400.6 514.5L401.4 521.4L402 496L402.2 514.4L403 520.5L403.8 506.9L404.6 523.1L404.7 549L405.3 497L405.4 506.9L406.2 525.6L407 509.7L407.8 522.5L408.6 503.2L409 504L409.4 532.7L410.2 510.3L411 529.4L411.8 510L412.6 529.7L413.4 506.7L414.2 522.1L415 502.4L415.8 529.3L416.6 509.9L417.4 526.7L417.7 537L418 501L418.2 510.5L419 519.5L419.8 514.3L420.6 519.5L421.4 520.1L422.7 520.3L423.9 516.3L425.5 514.9L426.7 516.7L427.7 516.1L428.8 516.4L430.3 517.5L431.3 520.2L432.5 519.4L433.9 518.1L435.4 515.5L436.4 514.3L437.6 515.7L438.9 516.6L440.3 519.8L441.7 518.5L443.1 515.9L444.7 516.8L445.7 514.4L447.2 519L448.3 519L448.7 512L449.6 516.5L450.9 516.2L452.4 517.9L453.7 517.2L455 513.5L456.2 517.2L457.3 516L458.4 516.6L459.9 519.3L460.9 518.4L462.1 517.2L463.5 515.9L465 511.5L465.8 520.8L465.8 534L466.6 509.3L467 490L467.4 528.2L468.2 506.5L469 524.7L469.8 496.6L470.6 531.2L471.4 507.6L472.2 534.1L473 498.2L473 549L473.8 531.6L474.6 502.5L474.6 483L475.4 533.6L475.9 558L476.2 499.8L477 531.2L477.4 496L477.8 505.8L478.6 523.4L479.4 508.4L480.2 519.5L481 514.5L481.8 516.8L483.1 516.4L484.3 519.8L485.3 516.9L486.7 518.8L488 516.9L489.4 515L490.9 517.1L492.4 515.4L493.7 518.5L495 519L496.2 520L497.6 516.1L498.9 517.4L500.3 514.9L501.4 516.2L502.5 514.4L503.3 524.2L504 550L504.1 510.1L504.4 486.5L504.9 523.8L505.7 507.7L506.5 522.2L507.3 507L508.1 528.2L508.9 504.6L509.4 543L509.7 534.5L510 497L510.5 505L511.3 524.5L512.1 505.7L512.9 527.6L513.7 509.1L514.5 525.1L515.3 507.4L515.6 502L515.6 536L516.1 522L516.9 514.3L517.7 519.5L518.5 519.6L519.9 519L521.1 518.1L522.6 517.7L524 514.2L525 514.6L526.2 517.7L527.4 517.1L528.6 519.6L530 517.6L531.5 518L532.9 514.2L534.3 517.8L535.7 516.6L536.9 516.7L538.1 518.8L539.2 518.9L540.5 515.9L542 517.6L543.2 515.8L544.7 515.1L545.8 516.1L547.1 518.5L548.4 516.2L550 517.4L551.2 513.8L552.7 517.8L554 516.9L555.5 516.8L556.7 517.3L558 516.7L559.1 515.4L560.1 515.7L561.6 516.9L563 517.6L564.3 517.1L565.8 518.2L566.9 514.5L567 543L567.7 529.3L568.5 505.2L569.3 532.2L569.5 490L570.1 507L570.9 532.2L571.7 507.4L572.5 531.3L573.3 496.4L574.1 526.3L574.9 499.5L575.7 537.7L576 554L576.5 509.4L577 479L577.3 530.6L577.7 570L578.1 497L578.9 542.8L579.4 487L579.7 507.8L580.5 526.6L581.3 508.5L582.1 525.6L582.9 512.7L583.7 519.5L584.5 517.6L585.9 514.4L587.4 516.1L588.5 515.1L589.6 517.1L590.9 516.8L592.4 516L593.4 514.5L594.9 515.4L596 514.2L597.3 515.8L598.5 516.2L599.5 516.7L600.8 516.4L601.8 514L602.6 522.6L602.8 506L603.4 510L604.2 523.3L605 510.4L605.8 523.6L606.6 513.1L607.4 523.9L607.6 541.5L608.2 511.4L608.4 491.7L609 528.2L609.8 510.2L610.6 521.7L611.4 511.3L612.2 519.5L613 514.5L613.8 514.2L615.2 515.4L616.5 514L617.8 518.5L619 519L620.3 518.9L621.6 519L622.9 514.6L624.2 513.6L625.4 517.1L626.9 518.2L628.2 519.9L629.5 517.1L630.7 518.8L631.9 516.9L633.3 516.3L634.4 517.4L635.6 517.6L637 519.1L638.5 518.9L640 518.9L641.3 518.1L642.4 515.2L643.9 515.3L645.2 518.6L646.3 519.6L647.8 519.3L649 516.2L650.6 516.8L652.1 517.2L652.7 512L652.9 527L653.6 515.4L654.6 518L655.8 519.2L657.4 517.4L658.5 518.1L659.9 519.1L661 514.3L662.3 514.2L663.5 518.2L664.6 518.8L665.7 519.3L667.3 516.9L668.3 514.5L669.1 523.1L669.9 507.9L670.7 528.6L670.8 547.4L671.2 477.8L671.5 504L672.3 530.9L673.1 505.8L673.9 525.1L674.7 504.9L675.5 527.6L676.3 507.7L677.1 543.5L677.9 511.3L678.7 541.4L679.2 478.8L679.5 505.8L679.5 559.4L680.3 524.8L681.1 507.2L681.9 522L682 503L682.7 506L683.5 524.3L684.3 514.5L685.1 516.5L686.4 515.7L687.7 514.8L689.2 514.5L690.4 516.1L691.7 517.3L693.1 517.3L694.2 515.2L695.4 515.5L696.7 514.3L698.1 516.4L699.1 519L700.7 518L702 519L703.2 515.8L704.3 515.2L705.5 513.6L706.3 524.2L707.1 509L707.9 527.5L708.4 486.7L708.7 505.9L708.7 543.4L709.5 523.5L710.3 510.2L710.5 502L711.1 526.4L711.9 513.9L712.7 524L713.5 513.5L714.3 514.6L715.6 517.9L716.8 516.2L718.3 519.3L719.3 517.8L720.5 514.4L721.9 516.2L723.2 515.9L724.3 516L725.8 520.3L727.1 518.7L728 513L728.5 517.1L729.7 515.1L731.2 514L732.5 517.8L733.5 517.7L734.6 518.5" fill="none" stroke="#fa5610" stroke-width="2.1" stroke-linejoin="round"/>
<path d="M55.5 742.8L57.7 743.8L59.4 744.5L61.6 743.9L63.4 742.3L65.1 740.5L67 741.7L69.4 742.4L72 740L74.4 764L77 725L80 757L83 726L85 761L87 735L89 746L91.5 752L95 740L98 747L99.5 745.7L101.8 745.5L104 744.1L106 741L109.5 727.4L110.5 758L113 737L114 754L116 738L117.5 751L120 741L122 747L123.5 740.4L125.3 740.1L127.4 742.7L129.2 743.8L131.2 745.3L133.2 743.2L134.9 741.6L136.9 740.3L139.2 741.5L141.3 745.7L143.5 745.4L145.5 742.7L147.5 740.1L149.5 742.4L151.7 743.9L153.9 744.1L156.1 745.3L158 742.3L160.3 742.2L161.9 740.3L163.7 742.4L165.5 744.8L167 740L169 736L171 766L173.8 717.6L176.6 761L179 721.6L181 768L184 732L187 750L191 740L195 747L196.5 744.5L198.4 743L200.7 741.5L204 745L206.4 722L208.4 761L211.4 732L213.4 752L216 741L217.5 740.7L219.9 744L221.7 745.8L223.5 744.5L225.6 742L228 739.8L230.1 740.5L232 741.9L234 744.9L236.3 743.7L238.4 742.3L240.4 742.3L242.2 741.1L244 741L246 742.6L248 746.3L249.6 745.3L251.6 743L253.5 740.4L255.5 740.6L257.9 742.6L259.6 744.2L261.6 745L264.5 740L266 737L268.7 765L271 718.4L274.7 766L276.7 722.4L278.7 768L281.5 732L284 750L287 742L292 747L297 740L300.5 752L302 745.5L303.8 717L305.6 761L309 735L311 750L314 742L315.5 741.7L317.5 740.2L319.9 741.3L322.2 741.9L324.1 744.1L326.2 745.7L327.8 742.9L329.7 742L331.6 740.1L333.9 742.8L335.6 743.1L337.7 744.5L339.3 745L341.6 741.1L343.6 740.9L345.8 740.6L347.7 744.2L349.5 745.3L351.8 744.2L353.9 743.8L355.9 741.1L357.8 741.3L360.2 742.6L362.5 745.8L364 740L366 736L368.6 765L371 720L374 760L376.7 717.6L378.5 767L381.5 734L384.5 752L388 741L389.5 746L391.7 744L393.7 742.6L395.4 739.6L397.3 741.2L399.3 744L401 745L403.7 716L405.7 764L409 733L411 750L416 741L417.5 744.2L419.3 742.8L421 742L423.1 741.6L425 742.1L426.7 744.4L428.7 744.2L430.5 744.2L432.7 741.7L434.8 740.3L437.2 741.4L439.4 741.7L441 744.9L442.6 744.9L444.3 743.1L446.3 740.5L448.1 740.9L450 740.6L451.7 742.9L453.8 744.2L455.9 746.3L458.3 744.6L460.4 741.5L462.7 741.7L464 741L466 737L468 760L471 718.4L473.8 762L476.6 721.6L478.2 768L481.8 732L485 750L489 743L490.5 741.4L492.7 744.4L495 745.9L497.3 744.8L499.1 742L501 751L503.6 718L505.6 763L508.6 733L510.6 749L514 742L515.5 741.4L517.7 741.6L519.3 744.7L521.5 746.5L523.4 742.6L525.1 741.2L527.3 741.2L529.5 742.9L531.1 744.7L532.8 743.5L534.8 740.5L537.1 740.8L539.5 741.1L541.6 744.4L543.5 745.8L545.5 744.3L547.8 742.5L550.1 740.2L552.5 740.7L554.1 744.5L555.9 746.4L557.6 746.1L559.3 743.3L561.6 740.6L564 741L566 735L568.7 760L571 718.4L574 760L576.7 723L578.7 764L582 734L584 748L588 742L589.5 742.3L591.7 744.2L593.9 744.4L595.6 741.8L597.6 741.3L599.8 741.9L601 752L603.6 715L605.7 763L608.6 733L610.5 751L614 741L615.5 742.3L617.6 745.8L619.2 744.8L620.8 742.3L622.6 740.6L624.8 741.9L626.7 746L628.6 746L630.6 743.6L633 741.8L635.2 740.6L637.3 742.1L638.9 744.8L641 744.6L643.1 744.3L645.2 740.3L647.5 741.1L649.4 742.4L651.7 744L653.5 745.1L655.6 745.6L657.2 742.4L659.5 742.3L661.5 740L663.6 743.5L666 742L667.5 738L669.2 759.7L672 720L674.6 758L677.6 723L679.6 763.7L682 735L685.5 750L689 741L692 751L699 741L702 752L704.4 720L706.8 764.7L709.8 733L711.8 750L715 742L716.5 744.9L718.2 744.7L720.1 743.2L722.3 741.8L724.3 741.2L726.5 741.5L728.8 743.9L730.5 744.9L732.1 743.2L734.5 742.2L736 743" fill="none" stroke="#0a72c0" stroke-width="3" stroke-linejoin="round" stroke-linecap="round"/>
<g font-size="14.5" class="tk">
<text x="49.5" y="477.5" text-anchor="end">5</text>
<text x="49.5" y="521" text-anchor="end">0</text>
<text x="49.5" y="567.5" text-anchor="end">-5</text>
<text x="49.5" y="703.5" text-anchor="end">5</text>
<text x="49.5" y="748" text-anchor="end">0</text>
<text x="49.5" y="794" text-anchor="end">-5</text>
<text x="54.6" y="806.8" text-anchor="middle">0</text><text x="168.1" y="806.8" text-anchor="middle">1</text><text x="281.6" y="806.8" text-anchor="middle">2</text><text x="395.1" y="806.8" text-anchor="middle">3</text><text x="508.6" y="806.8" text-anchor="middle">4</text><text x="622.1" y="806.8" text-anchor="middle">5</text><text x="735.6" y="806.8" text-anchor="middle">6</text>
</g>
<text x="396.5" y="826.5" font-size="14.8" font-weight="bold" class="tt" text-anchor="middle">Time/s</text>
<text transform="translate(25,625) rotate(-90)" font-size="15.8" class="yl" text-anchor="middle">Output Voltage/V</text>
<!-- annotations -->
<g font-size="15">
<text x="260" y="471.5" textLength="13.6" lengthAdjust="spacingAndGlyphs">S1</text>
<text x="298.3" y="471.5" textLength="14.3" lengthAdjust="spacingAndGlyphs">S2</text>
<text x="362" y="471.5" textLength="13.8" lengthAdjust="spacingAndGlyphs">S1</text>
<text x="402.2" y="471.5" textLength="14.3" lengthAdjust="spacingAndGlyphs">S2</text>
<text x="468.6" y="471.5" textLength="13.8" lengthAdjust="spacingAndGlyphs">S1</text>
<text x="499.2" y="471.5" textLength="14.3" lengthAdjust="spacingAndGlyphs">S2</text>
</g>
<path d="M264 549.3Q264 553 267 553H361Q363.8 553 363.8 549.3M281.7 553V561.5M332.2 553V566.3" fill="none" stroke="#93b534" stroke-width="2.3" stroke-linecap="round" stroke-linejoin="round"/>
<path d="M298.4 552.8Q300.2 548.8 302 552.8" fill="#93b534" stroke="#93b534" stroke-width="1"/>
<circle cx="282" cy="566" r="1.1" fill="#93b534"/>
<g font-size="15">
<text x="258" y="578.5" textLength="44" lengthAdjust="spacingAndGlyphs">Systole</text>
<text x="311.7" y="578.5" textLength="49.7" lengthAdjust="spacingAndGlyphs">Diastole</text>
</g>
<rect x="283.7" y="568" width="3.9" height="12" fill="#fff"/>
<!-- legend -->
<path d="M159 595.7H199.6" stroke="#1a88d0" stroke-width="2.2"/>
<path d="M374.6 595.8H423.9" stroke="#ff5a1a" stroke-width="2.2"/>
<text x="211" y="601" font-size="14" textLength="36.6" lengthAdjust="spacingAndGlyphs">SS17L</text>
<text x="430.4" y="600.5" font-size="15.5" textLength="262" lengthAdjust="spacingAndGlyphs">Multiscale pores hybrid self-power sensor</text>
<!-- figures -->
<g font-size="17">
<text x="87.5" y="622.3">(i)</text>
<text x="405" y="623">(ii)</text>
<text x="193.4" y="643" textLength="184" lengthAdjust="spacingAndGlyphs">The standard sensor SS17L</text>
<rect x="285" y="635.4" width="33" height="2.2" fill="#fff" opacity="0.9"/><rect x="278.5" y="633" width="2.5" height="3.5" fill="#fff" opacity="0.8"/>
<text x="193.4" y="668" textLength="205" lengthAdjust="spacingAndGlyphs">Mitral valve auscultation area</text>
<text x="194.7" y="694.8" textLength="88" lengthAdjust="spacingAndGlyphs">Medical tape</text>
<text x="509" y="638.3" textLength="143.5" lengthAdjust="spacingAndGlyphs">The proposed sensor</text>
<text x="509" y="665.2" textLength="205" lengthAdjust="spacingAndGlyphs">Mitral valve auscultation area</text>
<text x="509" y="693.8" textLength="88" lengthAdjust="spacingAndGlyphs">Medical tape</text>
</g>
<defs><g id="torso">
<path d="M126.9 634.6C118 638 111 640.5 106.5 643.5C102.5 646.5 100.8 652 100.2 659L98.6 674L96.6 694.4H179L177.4 677.8L176.1 661.2C175.6 655 174.4 649.5 171 645.2C165 641.5 156 638 148.3 634.6Z" fill="#fdebe4"/>
<path d="M126.9 634.6C118 638 111 640.5 106.5 643.5C102.5 646.5 100.8 652 100.2 659L98.6 674L96.6 694.4M148.3 634.6C156 638 165 641.5 171 645.2C174.4 649.5 175.6 655 176.1 661.2L177.4 677.8L179 694.4" fill="none" stroke="#bdbdbd" stroke-width="1.2"/>
<path d="M111.1 662L112.3 694.4M112.3 690L110.5 694.4M163.2 666.2L164 694.4M164 690L165.6 694.4" fill="none" stroke="#bdbdbd" stroke-width="0.8"/>
<path d="M118.5 642.8Q125 643.2 131 644.6M144.8 644.6Q151 643 158 642.2M132.7 635.5L137.3 644.2L142 635.5" fill="none" stroke="#f9e0d9" stroke-width="1"/>
<path d="M116 673.3Q123 674 131 672.4" fill="none" stroke="#dcc6c2" stroke-width="0.8"/>
<circle cx="122.3" cy="667.5" r="1.5" fill="#d9b1a9"/>
<circle cx="153.2" cy="667" r="1.3" fill="#ebcdc6"/>
</g></defs>
<use href="#torso"/>
<use href="#torso" transform="translate(315.8,-2.2)"/>
<rect x="143.2" y="672" width="16.6" height="2.9" fill="#9c7a12"/>
<ellipse cx="151.6" cy="673" rx="3.2" ry="3.2" fill="#4a3638"/><ellipse cx="152" cy="673.3" rx="1.6" ry="1.4" fill="#6a4a30"/>
<circle cx="145.6" cy="673.8" r="1.7" fill="#7a16c8"/>
<g fill="none" stroke="#b07ddc" stroke-width="1.35" stroke-dasharray="2.4 0.7">
<path d="M155.6 669.6L189.5 639.6M156.8 671.6L189.5 662M150 675.6L187.5 691.1"/>
</g>
<rect x="461.7" y="667.3" width="7" height="3.3" fill="#c63c22"/>
<rect x="461.7" y="670" width="12.1" height="2.4" fill="#ad8812"/>
<circle cx="459.1" cy="671" r="2" fill="#7a12c8"/>
<g fill="none" stroke="#b07ddc" stroke-width="1.35" stroke-dasharray="2.4 0.7">
<path d="M469.8 666.7L504.5 631.3M471.4 668.9L504.5 660.7M463.4 672.6L504.5 687.4"/>
</g>
</svg>
</body></html>
